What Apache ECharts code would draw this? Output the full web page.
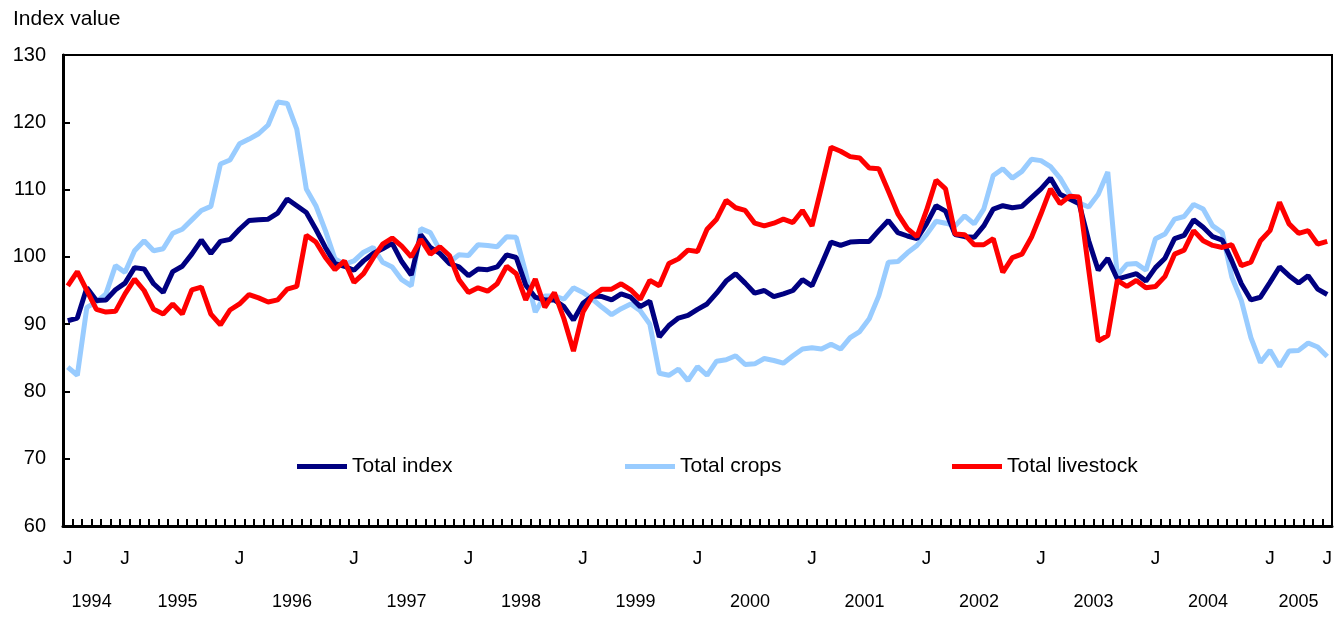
<!DOCTYPE html>
<html>
<head>
<meta charset="utf-8">
<script src="https://cdn.jsdelivr.net/npm/echarts@6/dist/echarts.min.js"></script>
<style>
html,body{margin:0;padding:0;background:#fff;}
#chart{width:1338px;height:617px;}
</style>
</head>
<body>
<div id="chart"></div>
<script>
// Monthly series, July 1994 to July 2005
var startYear = 1994;
var startMonth = 7;
var monthCount = 133;

var seriesNames = ['Total index', 'Total crops', 'Total livestock'];
var yTicks = [60, 70, 80, 90, 100, 110, 120, 130];

var totalIndex = [
90.5,90.9,95.4,93.5,93.6,95.1,96.1,98.4,98.2,96.0,94.7,97.8,98.6,100.4,102.5,100.5,102.3,102.6,104.1,105.4,
105.5,105.6,106.5,108.6,107.6,106.6,104.1,101.4,99.0,98.6,98.0,99.4,100.5,101.2,102.0,99.3,97.3,103.3,101.4,100.5,
99.0,98.5,97.2,98.2,98.1,98.5,100.3,99.9,95.8,94.0,93.6,93.6,92.6,90.6,93.1,94.2,94.1,93.6,94.5,94.0,
92.6,93.4,88.1,89.8,90.9,91.3,92.2,93.0,94.6,96.4,97.5,96.1,94.6,95.0,94.1,94.5,95.0,96.6,95.7,98.9,
102.2,101.7,102.2,102.3,102.3,103.9,105.4,103.6,103.1,102.7,104.9,107.6,106.8,103.3,103.0,102.9,104.6,107.1,107.6,107.3,
107.5,108.8,110.1,111.7,109.3,108.6,107.9,102.4,98.0,99.8,96.7,97.1,97.5,96.4,98.4,99.8,102.7,103.2,105.5,104.4,
103.0,102.5,99.4,96.0,93.6,94.0,96.2,98.5,97.2,96.1,97.2,95.2,94.4
];

var totalCrops = [
83.6,82.4,92.5,93.3,94.5,98.7,97.7,100.9,102.4,100.9,101.2,103.5,104.1,105.5,106.9,107.5,113.8,114.4,116.8,117.5,
118.3,119.6,123.0,122.8,119.0,110.1,107.6,103.9,99.7,98.9,99.4,100.7,101.4,99.2,98.5,96.6,95.7,104.2,103.6,101.0,
99.2,100.3,100.2,101.8,101.7,101.5,103.0,102.9,97.6,91.8,94.2,94.2,93.7,95.4,94.7,93.7,92.5,91.4,92.3,93.0,
92.0,90.0,82.7,82.4,83.3,81.6,83.7,82.4,84.5,84.7,85.3,84.0,84.1,84.9,84.6,84.2,85.3,86.3,86.5,86.3,
87.0,86.3,88.0,88.9,90.8,94.2,99.2,99.3,100.6,101.7,103.3,105.3,105.0,104.6,106.1,104.9,107.1,112.1,113.1,111.7,
112.7,114.5,114.3,113.4,111.7,109.3,108.0,107.4,109.3,112.6,97.2,98.9,99.0,98.0,102.7,103.4,105.6,106.0,107.8,107.1,
104.6,103.6,97.0,93.5,88.0,84.3,86.1,83.7,86.0,86.1,87.2,86.6,85.2
];

var totalLivestock = [
95.7,97.8,95.0,92.2,91.8,91.9,94.5,96.7,95.0,92.2,91.5,93.0,91.5,95.1,95.5,91.5,89.9,92.1,93.0,94.4,
93.9,93.3,93.6,95.2,95.6,103.2,102.2,99.9,98.1,99.4,96.2,97.5,99.8,101.9,102.8,101.6,100.0,102.6,100.4,101.5,
100.2,96.6,94.7,95.4,94.9,96.0,98.6,97.5,93.6,96.7,92.5,94.7,90.8,86.0,91.8,94.2,95.2,95.2,96.0,95.1,
93.7,96.5,95.7,99.0,99.7,101.0,100.8,104.1,105.6,108.4,107.3,106.9,105.0,104.6,105.0,105.6,105.1,106.9,104.6,110.4,
116.3,115.7,114.9,114.7,113.2,113.1,109.8,106.4,104.2,103.0,106.9,111.4,110.1,103.4,103.3,101.8,101.8,102.7,97.7,99.9,
100.4,102.9,106.4,110.1,107.9,109.0,108.9,98.1,87.5,88.3,96.5,95.6,96.5,95.4,95.6,97.1,100.4,101.0,103.9,102.4,
101.7,101.4,101.8,98.7,99.2,102.4,103.9,108.1,104.9,103.5,103.9,101.9,102.3
];

// Build month categories
var categories = [];
var monthOfIndex = [];
var yearOfIndex = [];
for (var k = 0; k < monthCount; k++) {
  var m0 = (startMonth - 1 + k);
  var y = startYear + Math.floor(m0 / 12);
  var m = (m0 % 12) + 1;
  categories.push(y + '-' + (m < 10 ? '0' + m : m));
  monthOfIndex.push(m);
  yearOfIndex.push(y);
}
// Year label positions: middle of each year's months
var yearLabels = [];
var yearCenters = [];
(function(){
  var groups = {};
  for (var k = 0; k < monthCount; k++) {
    var yy = yearOfIndex[k];
    if (!groups[yy]) { groups[yy] = []; yearLabels.push(yy); }
    groups[yy].push(k);
  }
  yearLabels.forEach(function(yy){
    var g = groups[yy];
    yearCenters.push((g[0] + g[g.length - 1]) / 2);
  });
})();

var FONT = "'Liberation Sans', Arial, Helvetica, sans-serif";
var chart = echarts.init(document.getElementById('chart'), null, {renderer: 'canvas'});

var colors = {
  'Total index': '#000080',
  'Total crops': '#99ccff',
  'Total livestock': '#ff0000'
};

function mkLegend(name, left) {
  return {
    data: [name],
    left: left,
    top: 456,
    padding: 0,
    icon: 'rect',
    itemWidth: 50,
    itemHeight: 5,
    itemGap: 0,
    selectedMode: false,
    textStyle: {fontSize: 21, color: '#000', fontFamily: FONT, padding: [0,0,0,0]}
  };
}

var option = {
  animation: false,
  backgroundColor: '#fff',
  title: {
    text: 'Index value',
    left: 13,
    top: 9,
    padding: 0,
    textStyle: {fontSize: 21, fontWeight: 'normal', color: '#000', fontFamily: FONT}
  },
  legend: [
    mkLegend(seriesNames[0], 297),
    mkLegend(seriesNames[1], 625),
    mkLegend(seriesNames[2], 952)
  ],
  grid: {
    left: 63, right: 6, top: 55, bottom: 91,
    show: true, borderColor: '#000', borderWidth: 2,
    outerBoundsMode: 'none'
  },
  xAxis: [
    {
      type: 'category',
      data: categories,
      boundaryGap: true,
      position: 'bottom',
      axisLine: {show: true, onZero: false, lineStyle: {color: '#000', width: 3}},
      axisTick: {show: true, inside: true, length: 7, interval: 0, alignWithLabel: false,
                 lineStyle: {color: '#000', width: 2}},
      axisLabel: {
        show: true,
        interval: function(idx){ return idx === 0 || idx === monthCount - 1 || monthOfIndex[idx] === 1; },
        formatter: function(){ return 'J'; },
        margin: 23,
        fontSize: 19,
        color: '#000',
        fontFamily: FONT
      },
      splitLine: {show: false}
    },
    {
      type: 'value',
      min: -0.5,
      max: monthCount - 0.5,
      position: 'bottom',
      axisLine: {show: false, onZero: false},
      axisTick: {show: false},
      splitLine: {show: false},
      axisLabel: {
        show: true,
        customValues: yearCenters,
        formatter: function(v){
          for (var q = 0; q < yearCenters.length; q++) {
            if (Math.abs(yearCenters[q] - v) < 1e-6) return String(yearLabels[q]);
          }
          return '';
        },
        margin: 67,
        fontSize: 18,
        color: '#000',
        fontFamily: "'Liberation Sans Narrow', " + FONT
      }
    }
  ],
  yAxis: {
    type: 'value',
    min: yTicks[0],
    max: yTicks[yTicks.length - 1],
    interval: 10,
    axisLine: {show: true, onZero: false, lineStyle: {color: '#000', width: 3}},
    axisTick: {show: true, inside: true, length: 7, lineStyle: {color: '#000', width: 2}},
    axisLabel: {fontSize: 20, color: '#000', margin: 17, fontFamily: FONT},
    splitLine: {show: false}
  },
  series: [
    {
      name: seriesNames[1], type: 'line', data: totalCrops, xAxisIndex: 0,
      showSymbol: false, symbol: 'none', z: 2,
      lineStyle: {color: colors['Total crops'], width: 5},
      itemStyle: {color: colors['Total crops']}
    },
    {
      name: seriesNames[0], type: 'line', data: totalIndex, xAxisIndex: 0,
      showSymbol: false, symbol: 'none', z: 3,
      lineStyle: {color: colors['Total index'], width: 5},
      itemStyle: {color: colors['Total index']}
    },
    {
      name: seriesNames[2], type: 'line', data: totalLivestock, xAxisIndex: 0,
      showSymbol: false, symbol: 'none', z: 4,
      lineStyle: {color: colors['Total livestock'], width: 5},
      itemStyle: {color: colors['Total livestock']}
    }
  ]
};
chart.setOption(option);
</script>
</body>
</html>
